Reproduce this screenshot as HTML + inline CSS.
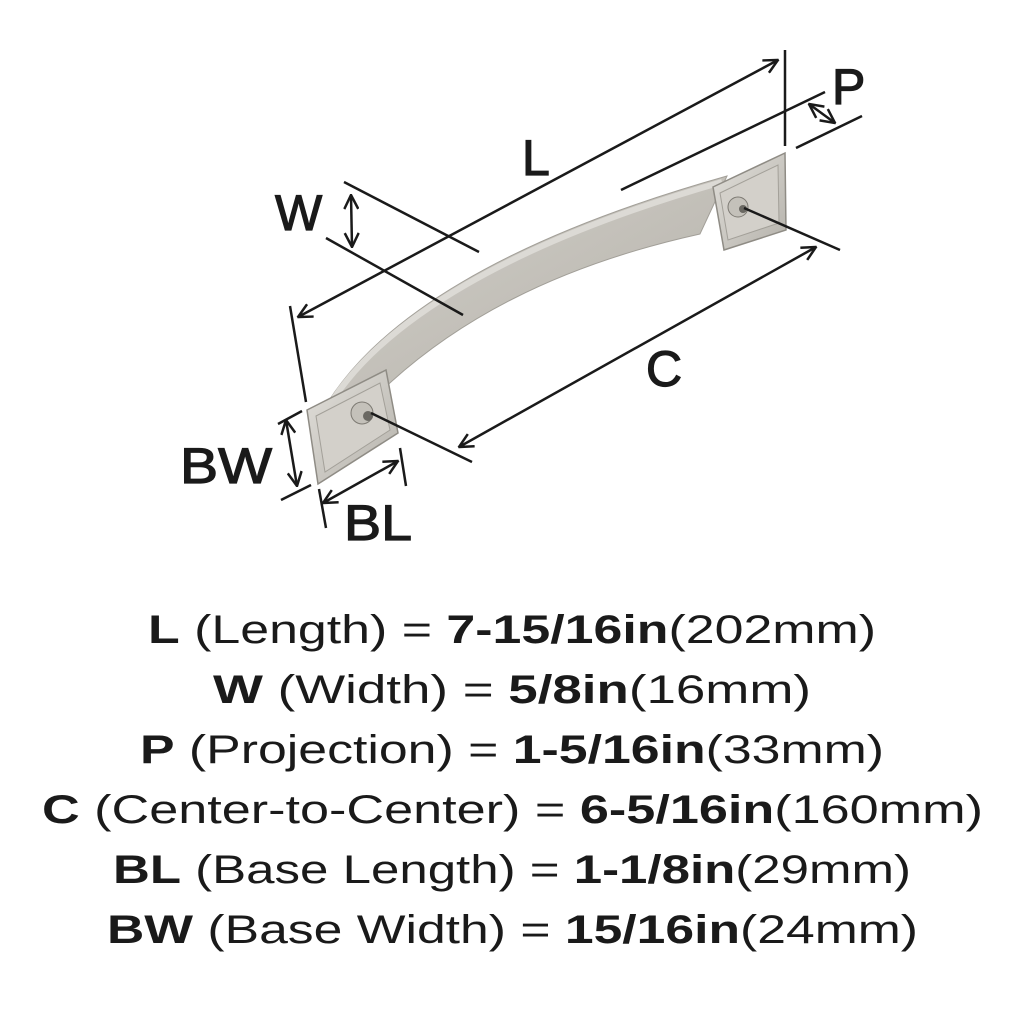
<!DOCTYPE html>
<html><head><meta charset="utf-8"><style>html,body{margin:0;padding:0;background:#fff}svg{display:block}</style></head>
<body>
<svg width="1024" height="1024" viewBox="0 0 1024 1024" xmlns="http://www.w3.org/2000/svg">
<defs>
<linearGradient id="g1" x1="0" y1="0" x2="1" y2="1">
<stop offset="0" stop-color="#d2d0ca"/><stop offset="0.5" stop-color="#c3c0b9"/><stop offset="1" stop-color="#b3b0a9"/>
</linearGradient>
<linearGradient id="g2" x1="0" y1="0" x2="1" y2="1">
<stop offset="0" stop-color="#e2e0db"/><stop offset="1" stop-color="#b5b2ab"/>
</linearGradient>
<marker id="ah" viewBox="0 0 16 16" refX="15" refY="8" markerWidth="16" markerHeight="16" markerUnits="userSpaceOnUse" orient="auto-start-reverse">
<path d="M1,1 L15,8 L1,15" fill="none" stroke="#1a1a1a" stroke-width="2.5"/>
</marker>
</defs>
<!-- handle arm -->
<path d="M328,402 C380,320 500,240 727,176 L700,234 C560,265 450,320 367,405 Z" fill="url(#g1)" stroke="#a29f98" stroke-width="1"/>
<path d="M334,398 C385,322 505,244 722,182" fill="none" stroke="#dcdad5" stroke-width="6"/>
<!-- left base -->
<polygon points="307,410 386,370 398,433 318,484" fill="url(#g2)" stroke="#8f8c85" stroke-width="1.5"/>
<polygon points="316,416 380,383 390,430 325,472" fill="#d3d0ca" stroke="#a3a099" stroke-width="1"/>
<circle cx="362" cy="413" r="11" fill="#c4c1ba" stroke="#7d7a73"/>
<circle cx="368" cy="416" r="5" fill="#6a6862"/>
<!-- right base -->
<polygon points="713,187 785,153 786,230 724,250" fill="url(#g2)" stroke="#8f8c85" stroke-width="1.5"/>
<polygon points="720,193 778,165 779,223 728,240" fill="#d3d0ca" stroke="#a3a099" stroke-width="1"/>
<circle cx="738" cy="207" r="10" fill="#c4c1ba" stroke="#7d7a73"/>
<circle cx="743" cy="209" r="4" fill="#6a6862"/>
<g stroke="#1a1a1a" stroke-width="2.5" fill="none">
<!-- L -->
<line x1="298" y1="317" x2="778" y2="60" marker-start="url(#ah)" marker-end="url(#ah)"/>
<line x1="290" y1="306" x2="306" y2="402"/>
<line x1="785" y1="50" x2="785" y2="146"/>
<!-- P -->
<line x1="621" y1="190" x2="825" y2="92"/>
<line x1="796" y1="148" x2="862" y2="116"/>
<line x1="809" y1="104" x2="835" y2="123" marker-start="url(#ah)" marker-end="url(#ah)"/>
<!-- W -->
<line x1="344" y1="182" x2="479" y2="252"/>
<line x1="326" y1="238" x2="463" y2="315"/>
<line x1="351" y1="195" x2="352" y2="247" marker-start="url(#ah)" marker-end="url(#ah)"/>
<!-- C -->
<line x1="371" y1="413" x2="472" y2="462"/>
<line x1="744" y1="208" x2="840" y2="250"/>
<line x1="459" y1="447" x2="816" y2="247" marker-start="url(#ah)" marker-end="url(#ah)"/>
<!-- BW -->
<line x1="278" y1="424" x2="302" y2="411"/>
<line x1="281" y1="500" x2="311" y2="485"/>
<line x1="286" y1="420" x2="297" y2="486" marker-start="url(#ah)" marker-end="url(#ah)"/>
<!-- BL -->
<line x1="319" y1="489" x2="326" y2="528"/>
<line x1="400" y1="448" x2="406" y2="486"/>
<line x1="323" y1="503" x2="398" y2="461" marker-start="url(#ah)" marker-end="url(#ah)"/>
</g>
<g font-family="Liberation Sans, sans-serif" fill="#1a1a1a" stroke="#1a1a1a" stroke-width="1.2" font-size="50">
<text x="522" y="175">L</text>
<text x="832" y="104">P</text>
<text x="275" y="230">W</text>
<text x="646" y="386">C</text>
<text x="180" y="483" textLength="92" lengthAdjust="spacingAndGlyphs">BW</text>
<text x="344" y="540" textLength="68" lengthAdjust="spacingAndGlyphs">BL</text>
</g>
<g font-family="Liberation Sans, sans-serif" fill="#1a1a1a" font-size="40" text-anchor="start">
<text x="148" y="643" textLength="728" lengthAdjust="spacingAndGlyphs"><tspan font-weight="bold">L</tspan> (Length) = <tspan font-weight="bold">7-15/16in</tspan>(202mm)</text>
<text x="213" y="703" textLength="598" lengthAdjust="spacingAndGlyphs"><tspan font-weight="bold">W</tspan> (Width) = <tspan font-weight="bold">5/8in</tspan>(16mm)</text>
<text x="140" y="763" textLength="744" lengthAdjust="spacingAndGlyphs"><tspan font-weight="bold">P</tspan> (Projection) = <tspan font-weight="bold">1-5/16in</tspan>(33mm)</text>
<text x="42" y="823" textLength="941" lengthAdjust="spacingAndGlyphs"><tspan font-weight="bold">C</tspan> (Center-to-Center) = <tspan font-weight="bold">6-5/16in</tspan>(160mm)</text>
<text x="113" y="883" textLength="798" lengthAdjust="spacingAndGlyphs"><tspan font-weight="bold">BL</tspan> (Base Length) = <tspan font-weight="bold">1-1/8in</tspan>(29mm)</text>
<text x="107" y="943" textLength="811" lengthAdjust="spacingAndGlyphs"><tspan font-weight="bold">BW</tspan> (Base Width) = <tspan font-weight="bold">15/16in</tspan>(24mm)</text>
</g>
</svg>
</body></html>
